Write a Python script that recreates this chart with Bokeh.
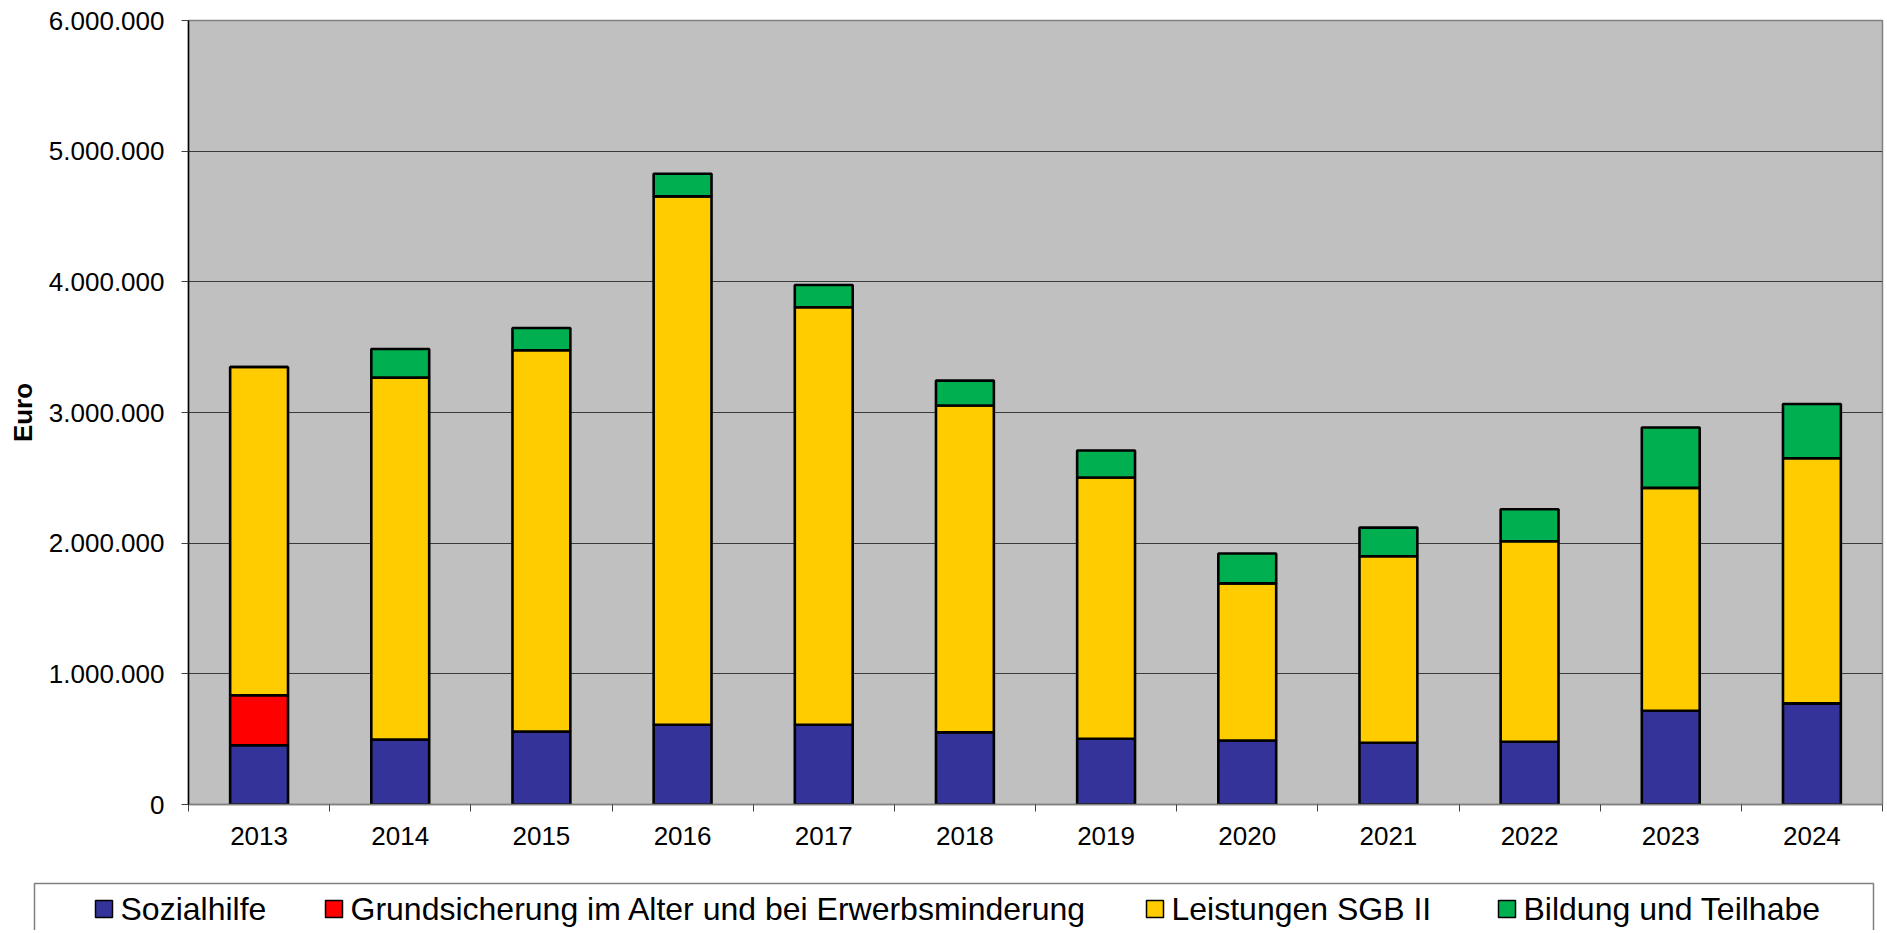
from bokeh.plotting import figure
from bokeh.models import Range1d, FixedTicker, ColumnDataSource
from bokeh.layouts import column
from bokeh.core.properties import value
from bokeh.embed import file_html
from bokeh.resources import INLINE

# ---------------- data ----------------
years = ["2013", "2014", "2015", "2016", "2017", "2018",
         "2019", "2020", "2021", "2022", "2023", "2024"]
sozialhilfe = [454000, 497000, 559000, 610000, 610000, 553000,
               503000, 490000, 473000, 480000, 717000, 774000]
grundsicherung = [382000, 0, 0, 0, 0, 0, 0, 0, 0, 0, 0, 0]
leistungen_sgb2 = [2512000, 2770000, 2917000, 4044000, 3195000, 2500000,
                   1999000, 1202000, 1427000, 1535000, 1706000, 1876000]
bildung_teilhabe = [0, 219000, 171000, 173000, 171000, 191000,
                    207000, 229000, 219000, 245000, 462000, 415000]
series_names = ["Sozialhilfe",
                "Grundsicherung im Alter und bei Erwerbsminderung",
                "Leistungen SGB II",
                "Bildung und Teilhabe"]
y_ticks = [0, 1000000, 2000000, 3000000, 4000000, 5000000, 6000000]
y_tick_labels = ["0", "1.000.000", "2.000.000", "3.000.000",
                 "4.000.000", "5.000.000", "6.000.000"]

# ---------------- styles ----------------
colors = ["#333399", "#FF0000", "#FFCC00", "#00B050"]
FONT = "Liberation Sans"
W = 1887
H_MAIN = 870
H_LEG = 60

n = len(years)
xpos = [i + 0.5 for i in range(n)]
source = ColumnDataSource(dict(x=xpos, soz=sozialhilfe, grund=grundsicherung,
                               sgb=leistungen_sgb2, but=bildung_teilhabe))

p = figure(width=W, height=H_MAIN, x_range=Range1d(0, n),
           y_range=Range1d(0, 6000000), output_backend="svg",
           toolbar_location=None, min_border_left=188, min_border_right=5,
           min_border_top=20, min_border_bottom=66)
p.frame_align = False
p.background_fill_color = "#C0C0C0"
p.border_fill_color = "white"
p.outline_line_color = "#808080"
p.outline_line_width = 1.5

p.vbar_stack(["soz", "grund", "sgb", "but"], x="x", width=0.41,
             fill_color=colors, line_color="black", line_width=2.6,
             source=source)

# grid
p.xgrid.visible = False
p.ygrid.grid_line_color = "#3a3a3a"
p.ygrid.grid_line_width = 1

# y axis
p.yaxis.ticker = FixedTicker(ticks=y_ticks)
p.yaxis.major_label_overrides = {t: l for t, l in zip(y_ticks, y_tick_labels)}
p.yaxis.major_label_text_font = FONT
p.yaxis.major_label_text_font_size = "26px"
p.yaxis.major_label_text_color = "black"
p.yaxis.major_label_standoff = 17
p.yaxis.major_tick_out = 7
p.yaxis.major_tick_in = 0
p.yaxis.major_tick_line_color = "#404040"
p.yaxis.minor_tick_line_color = None
p.yaxis.axis_line_color = "black"
p.yaxis.axis_line_width = 1.5
p.yaxis.axis_label = "Euro"
p.yaxis.axis_label_text_font = FONT
p.yaxis.axis_label_text_font_size = "26px"
p.yaxis.axis_label_text_font_style = "bold"
p.yaxis.axis_label_text_color = "black"
p.yaxis.axis_label_standoff = 8

# x axis (category labels at centres, tick marks at boundaries)
p.xaxis.ticker = FixedTicker(ticks=xpos, minor_ticks=list(range(n + 1)))
p.xaxis.major_label_overrides = {x: y for x, y in zip(xpos, years)}
p.xaxis.major_label_text_font = FONT
p.xaxis.major_label_text_font_size = "26px"
p.xaxis.major_label_text_color = "black"
p.xaxis.major_label_standoff = 15
p.xaxis.major_tick_out = 0
p.xaxis.major_tick_in = 0
p.xaxis.minor_tick_out = 7
p.xaxis.minor_tick_in = 0
p.xaxis.minor_tick_line_color = "#404040"
p.xaxis.axis_line_color = "#808080"
p.xaxis.axis_line_width = 1.5

# ---------------- legend (drawn in page pixel coordinates) ----------------
lf = figure(width=W, height=H_LEG, x_range=Range1d(0, W),
            y_range=Range1d(H_MAIN + H_LEG, H_MAIN),
            output_backend="svg", toolbar_location=None, min_border=0)
lf.frame_align = False
lf.axis.visible = False
lf.grid.visible = False
lf.outline_line_color = None
lf.background_fill_color = "white"
lf.border_fill_color = "white"

lf.quad(left=[34], right=[1873], top=[883], bottom=[1000],
        fill_color=None, line_color="#808080", line_width=1.5)

sq_left = [95, 325, 1146, 1498]
sq = 17
cy = 908.5
lf.quad(left=sq_left, right=[s + sq for s in sq_left],
        top=[cy - sq / 2] * 4, bottom=[cy + sq / 2] * 4,
        fill_color=colors, line_color="black", line_width=1.5)
lf.text(x=[s + sq + 8 for s in sq_left], y=[cy] * 4, text=series_names,
        text_font=value(FONT), text_font_size="32px",
        text_baseline="middle", text_align="left", text_color="black")

layout = column(p, lf, spacing=0)
open("out.html", "w").write(file_html(layout, INLINE))
